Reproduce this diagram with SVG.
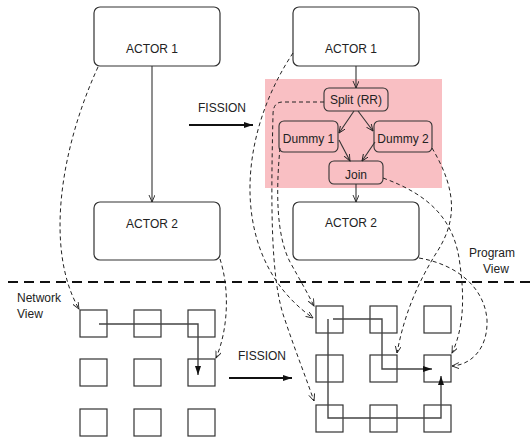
<svg xmlns="http://www.w3.org/2000/svg" width="530" height="440" viewBox="0 0 530 440">
<defs>
<style>
.box{fill:#fff;stroke:#333;stroke-width:1.2}
.sbox{fill:none;stroke:#333;stroke-width:1.1}
.cell{fill:none;stroke:#333;stroke-width:1.2}
.t{font-family:"Liberation Sans",Arial,sans-serif;font-size:12px;fill:#222}
.solid{fill:none;stroke:#333;stroke-width:1.1}
.dash{fill:none;stroke:#222;stroke-width:1;stroke-dasharray:4,3}
.route{fill:none;stroke:#444;stroke-width:1.4}
.fis{fill:none;stroke:#111;stroke-width:2}
</style>
<marker id="oa" markerUnits="userSpaceOnUse" markerWidth="9" markerHeight="8" refX="7" refY="3" orient="auto">
<path d="M0,0 L7,3 L0,6" fill="none" stroke="#222" stroke-width="0.9"/>
</marker>
<marker id="fa" markerUnits="userSpaceOnUse" markerWidth="10" markerHeight="8" refX="9" refY="3" orient="auto">
<path d="M0,0 L9,3 L0,6 Z" fill="#111"/>
</marker>
</defs>
<rect x="265" y="79" width="177" height="109" fill="#f9bfc3"/>
<g id="left-actor1"><rect class="box" x="94" y="7" width="126" height="59" rx="6"/><text class="t" x="152" y="53" text-anchor="middle">ACTOR 1</text></g>
<g id="left-actor2"><rect class="box" x="94" y="202" width="126" height="58" rx="6"/><text class="t" x="152" y="228" text-anchor="middle">ACTOR 2</text></g>
<g id="right-actor1"><rect class="box" x="293" y="7" width="126" height="59" rx="6"/><text class="t" x="351" y="53" text-anchor="middle">ACTOR 1</text></g>
<g id="right-actor2"><rect class="box" x="293" y="202" width="126" height="58" rx="6"/><text class="t" x="351" y="227" text-anchor="middle">ACTOR 2</text></g>
<g id="split"><rect class="sbox" x="324" y="88" width="64" height="23" rx="5"/><text class="t" x="356" y="104" text-anchor="middle">Split (RR)</text></g>
<g id="dummy1"><rect class="sbox" x="279" y="121" width="59" height="31" rx="5"/><text class="t" x="308.500" y="143" text-anchor="middle">Dummy 1</text></g>
<g id="dummy2"><rect class="sbox" x="374" y="121" width="58" height="31" rx="5"/><text class="t" x="403" y="143" text-anchor="middle">Dummy 2</text></g>
<g id="join"><rect class="sbox" x="329" y="161" width="54" height="23" rx="5"/><text class="t" x="356" y="179" text-anchor="middle">Join</text></g>
<g id="labels">
<text class="t" x="198" y="112">FISSION</text>
<text class="t" x="238" y="360">FISSION</text>
<text class="t" x="17" y="302">Network</text>
<text class="t" x="17" y="318">View</text>
<text class="t" x="469" y="257">Program</text>
<text class="t" x="483" y="273">View</text>
</g>
<g id="left-grid">
<rect class="cell" x="80" y="310" width="27" height="27"/><rect class="cell" x="134" y="310" width="27" height="27"/><rect class="cell" x="188" y="310" width="27" height="27"/>
<rect class="cell" x="80" y="359" width="27" height="27"/><rect class="cell" x="134" y="359" width="27" height="27"/><rect class="cell" x="188" y="359" width="27" height="27"/>
<rect class="cell" x="80" y="409" width="27" height="27"/><rect class="cell" x="134" y="409" width="27" height="27"/><rect class="cell" x="188" y="409" width="27" height="27"/>
</g>
<g id="right-grid">
<rect class="cell" x="316" y="306" width="27" height="27"/><rect class="cell" x="370" y="306" width="27" height="27"/><rect class="cell" x="424" y="306" width="27" height="27"/>
<rect class="cell" x="316" y="355" width="27" height="27"/><rect class="cell" x="370" y="355" width="27" height="27"/><rect class="cell" x="424" y="355" width="27" height="27"/>
<rect class="cell" x="316" y="405" width="27" height="27"/><rect class="cell" x="370" y="405" width="27" height="27"/><rect class="cell" x="424" y="405" width="27" height="27"/>
</g>
<g id="connectors">
<line x1="8" y1="282" x2="530" y2="282" stroke="#111" stroke-width="2" stroke-dasharray="10,6"/>
<path class="solid" d="M152,66 V202" marker-end="url(#oa)"/>
<path class="solid" d="M356,66 V88" marker-end="url(#oa)"/>
<path class="solid" d="M354,111 L339,133" marker-end="url(#oa)"/>
<path class="solid" d="M358,111 L373,131" marker-end="url(#oa)"/>
<path class="solid" d="M339,140 L350,161" marker-end="url(#oa)"/>
<path class="solid" d="M375,142 L362,161" marker-end="url(#oa)"/>
<path class="solid" d="M356,184 V202" marker-end="url(#oa)"/>
<path class="fis" d="M189,125 H253" marker-end="url(#fa)"/>
<path class="fis" d="M229,378 H292" marker-end="url(#fa)"/>
<path class="route" d="M99,324 H198 V375" marker-end="url(#fa)"/>
<path class="route" d="M333,319 H382 V369 H432" marker-end="url(#fa)"/>
<path class="route" d="M328,319 V418 H441 V376" marker-end="url(#fa)"/>
<path class="dash" d="M98,67 C60,150 45,250 79,309" marker-end="url(#oa)"/>
<path class="dash" d="M220,259 C230,290 228,330 216,358" marker-end="url(#oa)"/>
<path class="dash" d="M293,53 C235,140 230,260 313,318" marker-end="url(#oa)"/>
<path class="dash" d="M324,102 L283,102 C276,102 273,106 273,115 C271,200 270,280 285,320 C295,350 305,375 314,401" marker-end="url(#oa)"/>
<path class="dash" d="M280,148 C276,190 276,235 290,262 C300,280 307,292 314,306" marker-end="url(#oa)"/>
<path class="dash" d="M432,148 C460,195 455,225 435,255 C420,280 405,310 397,353" marker-end="url(#oa)"/>
<path class="dash" d="M383,178 C430,195 455,220 460,265 C465,300 463,330 452,353" marker-end="url(#oa)"/>
<path class="dash" d="M419,258 C460,265 485,290 487,320 C488,350 470,365 452,366" marker-end="url(#oa)"/>
</g>
</svg>
